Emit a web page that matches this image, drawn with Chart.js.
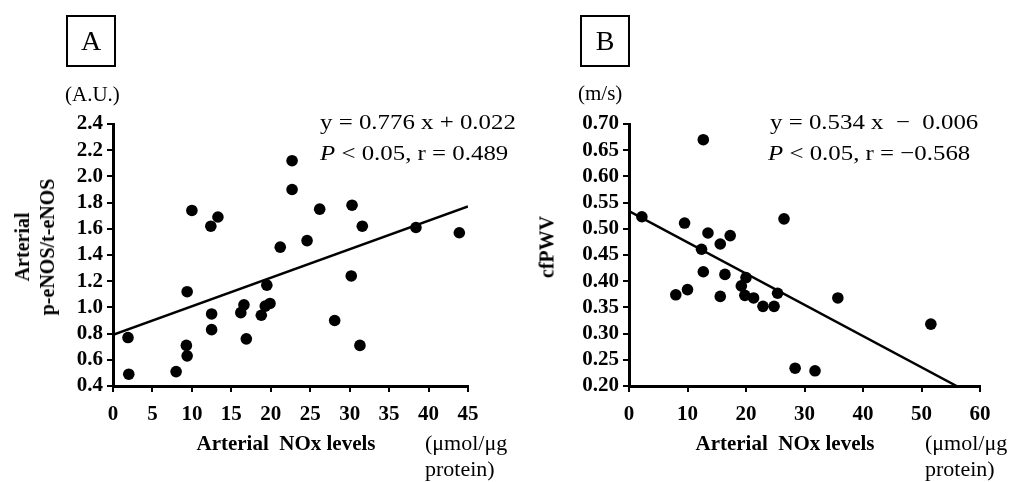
<!DOCTYPE html>
<html>
<head>
<meta charset="utf-8">
<script src="https://cdn.jsdelivr.net/npm/chart.js@4.4.1/dist/chart.umd.min.js"></script>
<style>
  html, body { margin: 0; padding: 0; background: #fff; }
  #wrap { position: relative; width: 1010px; height: 482px; font-family: 'Liberation Serif', 'Times New Roman', serif; color: #000; }
  .pane { position: absolute; top: 0; width: 505px; height: 482px; }
  .t { position: absolute; white-space: pre; line-height: 1; }
  .box { position: absolute; box-sizing: border-box; width: 50px; height: 52px; border: 2px solid #000;
         display: flex; align-items: center; justify-content: center; font-size: 28px; }
  .rot { position: absolute; transform: translate(-50%, -50%) rotate(-90deg); white-space: pre; text-align: center;
         font-weight: bold; font-size: 20px; line-height: 25px; }
  .eq { font-size: 22px; transform: scaleX(1.13); transform-origin: left center; }
  .xt { font-weight: bold; font-size: 21px; transform: translateX(-50%); }
  .unit { font-size: 22px; line-height: 26px; }
</style>
</head>
<body>
<div id="wrap">
  <div class="pane" style="left:0"><canvas id="chartA"></canvas></div>
  <div class="pane" style="left:505px"><canvas id="chartB"></canvas></div>

  <div class="box" style="left:66px;top:15px">A</div>
  <div class="t" style="left:65px;top:84px;font-size:21px">(A.U.)</div>
  <div class="rot" style="left:35px;top:247px">Arterial
p-eNOS/t-eNOS</div>
  <div class="t eq" style="left:320px;top:111px">y = 0.776 x + 0.022</div>
  <div class="t eq" style="left:320px;top:142px"><i>P</i> &lt; 0.05, r = 0.489</div>
  <div class="t xt" style="left:286px;top:433px">Arterial  NOx levels</div>
  <div class="t unit" style="left:425px;top:430px">(μmol/μg
protein)</div>

  <div class="box" style="left:580px;top:15px">B</div>
  <div class="t" style="left:578px;top:83px;font-size:21px">(m/s)</div>
  <div class="rot" style="left:547px;top:247px">cfPWV</div>
  <div class="t eq" style="left:770px;top:111px">y = 0.534 x  −  0.006</div>
  <div class="t eq" style="left:768px;top:142px"><i>P</i> &lt; 0.05, r = −0.568</div>
  <div class="t xt" style="left:785px;top:433px">Arterial  NOx levels</div>
  <div class="t unit" style="left:925px;top:430px">(μmol/μg
protein)</div>
</div>

<script>
// ── datos ──
// Panel A: NOx arterial (µmol/µg proteína) vs p-eNOS/t-eNOS (A.U.)
const noxA = [1.9, 2.0, 8.0, 9.3, 9.4, 9.4, 10.0, 12.4, 13.3, 12.5, 12.5, 16.2, 16.6, 16.9, 18.8,
              19.3, 19.9, 19.5, 21.2, 22.7, 22.7, 24.6, 26.2, 28.1, 30.2, 30.3, 31.3, 31.6, 38.4, 43.9];
const enosA = [0.77, 0.49, 0.51, 0.71, 0.63, 1.12, 1.74, 1.62, 1.69, 0.95, 0.83, 0.96, 1.02, 0.76, 0.94,
               1.01, 1.03, 1.17, 1.46, 2.12, 1.90, 1.51, 1.75, 0.90, 1.24, 1.78, 0.71, 1.62, 1.61, 1.57];
const ajusteA = [[0, 0.79], [45, 1.77]];
const ticksXA = [0, 45, 5];
const ticksYA = [0.4, 2.4, 0.2];

// Panel B: NOx arterial vs cfPWV (m/s)
const noxB = [2.2, 12.7, 9.5, 13.5, 17.3, 15.6, 12.4, 26.5, 12.7, 16.4, 8.0, 10.0, 15.6, 20.0, 19.2,
              19.8, 21.3, 22.9, 24.8, 25.4, 35.7, 28.4, 31.8, 51.6];
const pwvB = [0.523, 0.670, 0.511, 0.492, 0.487, 0.471, 0.461, 0.519, 0.418, 0.413, 0.374, 0.384, 0.371, 0.407, 0.391,
              0.373, 0.368, 0.352, 0.352, 0.377, 0.368, 0.234, 0.229, 0.318];
const ajusteB = [[0, 0.534], [56, 0.20]];
const ticksXB = [0, 60, 10];
const ticksYB = [0.20, 0.70, 0.05];

const FUENTE = "'Liberation Serif', 'Times New Roman', serif";

function _eje(rango, decimales, ancho, alto) {
  return {
    type: 'linear',
    min: rango[0], max: rango[1],
    ticks: {
      stepSize: rango[2],
      autoSkip: false,
      maxRotation: 0,
      color: '#000',
      padding: alto ? 10 : 4,
      font: { family: FUENTE, size: 21, weight: 'bold' },
      callback: (v) => Number(v).toFixed(decimales),
    },
    grid: { drawOnChartArea: false, drawTicks: true, tickLength: 6, color: '#000', lineWidth: 2 },
    border: { display: true, color: '#000', width: 3 },
    afterFit: (s) => { if (ancho) s.width = ancho; if (alto) s.height = alto; },
  };
}

function dispersion(id, xs, ys, ajuste, tx, ty, decY, anchoY, derecha) {
  return new Chart(document.getElementById(id), {
    type: 'scatter',
    data: {
      datasets: [
        {
          data: xs.map((x, i) => ({ x, y: ys[i] })),
          backgroundColor: '#000', borderWidth: 0, pointRadius: 5.8, pointHoverRadius: 5.8,
        },
        {
          type: 'line',
          data: ajuste.map(([x, y]) => ({ x, y })),
          borderColor: '#000', borderWidth: 2.5, pointRadius: 0, fill: false,
        },
      ],
    },
    options: {
      responsive: false,
      animation: false,
      layout: { padding: { top: 124, right: derecha, left: 0, bottom: 0 } },
      plugins: { legend: { display: false }, tooltip: { enabled: false } },
      scales: {
        x: _eje(tx, 0, 0, 96),
        y: _eje(ty, decY, anchoY, 0),
      },
    },
  });
}

for (const id of ['chartA', 'chartB']) {
  const c = document.getElementById(id);
  c.width = 505; c.height = 482;
  c.style.width = '505px'; c.style.height = '482px';
}

dispersion('chartA', noxA, enosA, ajusteA, ticksXA, ticksYA, 1, 113, 37);
dispersion('chartB', noxB, pwvB, ajusteB, ticksXB, ticksYB, 2, 124, 30);
</script>
</body>
</html>
